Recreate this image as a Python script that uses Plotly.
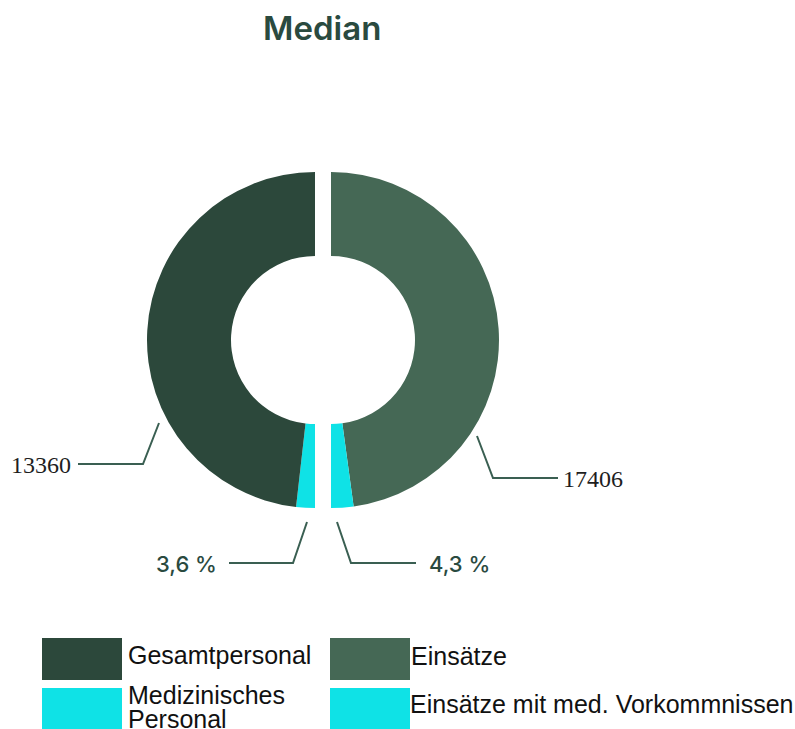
import plotly.graph_objects as go

W, H = 795, 729

# Data
title = "Median"
left_labels = ["Gesamtpersonal", "Medizinisches Personal"]
right_labels = ["Einsätze", "Einsätze mit med. Vorkommnissen"]
left_total = 13360
right_total = 17406
left_pct = 3.6
right_pct = 4.3
legend_lines = [["Gesamtpersonal"], ["Einsätze"], ["Medizinisches", "Personal"], ["Einsätze mit med. Vorkommnissen"]]

DARK = "#2c483b"
GREEN = "#456855"
CYAN = "#0fe2e6"
LINE = "#3a5f52"
TXT = "#2a4a3f"


def px(x):
    return x / W


def py(y):
    return 1 - y / H


cy, r = 340, 168
lcx, rcx = 315, 331

fig = go.Figure()
# left half: clockwise from 12 o'clock -> blank right half, then cyan, then dark green up the left side
fig.add_trace(go.Pie(
    labels=["blank_left", left_labels[1], left_labels[0]],
    values=[100, left_pct, 100 - left_pct],
    marker=dict(colors=["rgba(255,255,255,0)", CYAN, DARK], line=dict(width=0)),
    hole=0.5, sort=False, direction="clockwise", rotation=0,
    textinfo="none", hoverinfo="none", showlegend=False,
    domain=dict(x=[px(lcx - r), px(lcx + r)], y=[py(cy + r), py(cy - r)]),
))
fig.add_trace(go.Pie(
    labels=[right_labels[0], right_labels[1], "blank_right"],
    values=[100 - right_pct, right_pct, 100],
    marker=dict(colors=[GREEN, CYAN, "rgba(255,255,255,0)"], line=dict(width=0)),
    hole=0.5, sort=False, direction="clockwise", rotation=0,
    textinfo="none", hoverinfo="none", showlegend=False,
    domain=dict(x=[px(rcx - r), px(rcx + r)], y=[py(cy + r), py(cy - r)]),
))

shapes = []
annotations = []


def leader(points):
    d = "M " + " L ".join(f"{px(x)},{py(y)}" for x, y in points)
    shapes.append(dict(type="path", path=d, xref="paper", yref="paper",
                       line=dict(color=LINE, width=2)))


leader([(159, 423), (143, 464), (78, 464)])
leader([(477, 436), (493, 478), (558, 478)])
leader([(307, 522), (293, 563), (229, 563)])
leader([(337, 522), (351, 563), (416, 563)])

serif = dict(family="Liberation Serif, Times New Roman, serif", size=24, color="#1e1e1e")
sans = dict(family="Inter, Roboto, sans-serif", size=22, color=TXT, weight=500)

annotations.append(dict(x=px(73), y=py(465), text=f"{left_total}", xanchor="right", yanchor="middle",
                        showarrow=False, font=serif, xref="paper", yref="paper"))
annotations.append(dict(x=px(561), y=py(479), text=f"{right_total}", xanchor="left", yanchor="middle",
                        showarrow=False, font=serif, xref="paper", yref="paper"))
annotations.append(dict(x=px(219), y=py(564), text=f"{left_pct:.1f} %".replace(".", ","), xanchor="right",
                        yanchor="middle", showarrow=False, font=sans, xref="paper", yref="paper"))
annotations.append(dict(x=px(427), y=py(564), text=f"{right_pct:.1f} %".replace(".", ","), xanchor="left",
                        yanchor="middle", showarrow=False, font=sans, xref="paper", yref="paper"))

annotations.append(dict(x=px(322), y=py(28), text=title, xanchor="center", yanchor="middle",
                        showarrow=False, font=dict(family="Inter, Roboto, sans-serif", size=33, color=TXT, weight=600),
                        xref="paper", yref="paper"))

# Legend (custom)
leg_font = dict(family="Liberation Sans, Arial, sans-serif", size=25, color="#111")
leg_items = [
    (42, 638, DARK, 0, 126, [655]),
    (330, 638, GREEN, 1, 409, [656]),
    (42, 688, CYAN, 2, 126, [695, 719]),
    (330, 688, CYAN, 3, 408, [704]),
]
for x0, y0, col, idx, tx, tys in leg_items:
    shapes.append(dict(type="rect", xref="paper", yref="paper", x0=px(x0), x1=px(x0 + 80),
                       y0=py(y0 + 42), y1=py(y0), fillcolor=col, line=dict(width=0)))
    for line_text, ty in zip(legend_lines[idx], tys):
        annotations.append(dict(x=px(tx), y=py(ty), text=line_text, xanchor="left", yanchor="middle",
                                align="left", showarrow=False, font=leg_font, xref="paper", yref="paper"))

fig.update_layout(
    width=W, height=H, autosize=False,
    margin=dict(l=0, r=0, t=0, b=0),
    paper_bgcolor="white", plot_bgcolor="white",
    shapes=shapes, annotations=annotations,
    showlegend=False,
)

fig.write_html("out.html")
